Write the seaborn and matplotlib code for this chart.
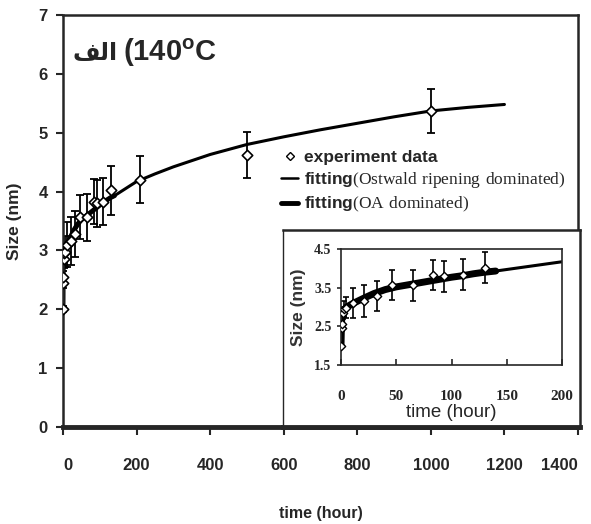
import matplotlib
matplotlib.use("Agg")
import matplotlib.pyplot as plt
from matplotlib.lines import Line2D
import pandas as pd
import seaborn as sns

tiempo = [0, 0.5, 1, 2, 3, 4.5, 10.6, 20.5, 32.6, 46, 65, 83, 93.5, 110, 130, 210, 500, 1000]
tamano = [2.0, 2.45, 2.55, 2.85, 2.95, 2.98, 3.1, 3.16, 3.28, 3.57, 3.56, 3.83, 3.80, 3.83, 4.02, 4.2, 4.62, 5.37]
error = [0.05, 0.08, 0.1, 0.15, 0.2, 0.27, 0.38, 0.41, 0.39, 0.38, 0.4, 0.38, 0.4, 0.4, 0.41, 0.4, 0.39, 0.38]

# ajuste (Ostwald ripening dominated)
t_ostwald = [0, 2, 5, 10, 20, 30, 50, 70, 90, 110, 140, 170, 200, 250, 300, 400, 500, 600, 700, 800, 900, 1000, 1100, 1200]
d_ostwald = [2.85, 2.92, 3.0, 3.07, 3.2, 3.32, 3.52, 3.63, 3.72, 3.82, 3.93, 4.05, 4.17, 4.3, 4.42, 4.63, 4.8, 4.93, 5.05, 5.16, 5.27, 5.37, 5.43, 5.48]

# ajuste (OA dominated)
t_oa = [0, 0.3, 0.6, 1, 2, 5, 10, 20, 30, 40, 50, 60, 70, 80, 90, 100, 110, 120, 130, 140]
d_oa = [2.0, 2.4, 2.65, 2.8, 2.9, 3.0, 3.08, 3.22, 3.35, 3.45, 3.52, 3.57, 3.62, 3.67, 3.72, 3.77, 3.81, 3.86, 3.9, 3.93]

xticks_main = [0, 200, 400, 600, 800, 1000, 1200, 1400]
yticks_main = [0, 1, 2, 3, 4, 5, 6, 7]
xticks_ins = [0, 50, 100, 150, 200]
yticks_ins = [1.5, 2.5, 3.5, 4.5]

df = pd.DataFrame({"time": tiempo, "size": tamano, "err": error})
df_os = pd.DataFrame({"time": t_ostwald, "size": d_ostwald})
df_oa = pd.DataFrame({"time": t_oa, "size": d_oa})

sns.set_style("ticks")
plt.rcParams["font.family"] = ["Liberation Sans", "DejaVu Sans"]
plt.rcParams["mathtext.fontset"] = "custom"
plt.rcParams["mathtext.rm"] = "Liberation Serif"
plt.rcParams["mathtext.bf"] = "Liberation Sans:bold"

W, H = 591, 524
fig = plt.figure(figsize=(W / 100, H / 100), dpi=100)
fig.patch.set_facecolor("white")

# grafico principal
ax = fig.add_axes([63 / W, (H - 427) / H, (578 - 63) / W, (427 - 15) / H])
sns.lineplot(data=df_os, x="time", y="size", ax=ax, color="black", lw=2.2, estimator=None, sort=False)
sns.lineplot(data=df_oa, x="time", y="size", ax=ax, color="black", lw=3.5, estimator=None, sort=False)
ax.errorbar(df["time"], df["size"], yerr=df["err"], fmt="none", ecolor="black", elinewidth=1.3, capsize=3, capthick=1.3)
sns.scatterplot(data=df, x="time", y="size", ax=ax, marker="D", s=28, facecolor="white", edgecolor="black", linewidth=1.2, zorder=5)

ax.set_xlim(0, 1400)
ax.set_ylim(0, 7)
ax.set_xticks(xticks_main)
ax.set_yticks(yticks_main)
ax.set_xticklabels([str(v) for v in xticks_main], fontsize=12, fontweight="bold")
ax.set_yticklabels([str(v) for v in yticks_main], fontsize=12, fontweight="bold")
ax.get_xticklabels()[-1].set_horizontalalignment("right")
ax.get_xticklabels()[0].set_horizontalalignment("left")
ax.tick_params(axis="x", direction="out", length=6, width=1.5, pad=16)
ax.tick_params(axis="y", direction="out", length=5, width=1.5, pad=6)
ax.set_xlabel("time (hour)", fontsize=11.5, fontweight="bold", labelpad=24)
ax.set_ylabel("Size (nm)", fontsize=12.5, fontweight="bold", labelpad=12)
for s in ["left", "top", "right"]:
    ax.spines[s].set_linewidth(1.8)
ax.spines["bottom"].set_linewidth(3.5)
ax.spines["top"].set_visible(True)
ax.spines["right"].set_visible(True)

# leyenda
handles = [
    Line2D([], [], marker="D", ls="none", markersize=4, markerfacecolor="white", markeredgecolor="black"),
    Line2D([], [], color="black", lw=1.8),
    Line2D([], [], color="black", lw=3.5),
]
labels = [
    "experiment data",
    r"fitting$\mathrm{(Ostwald\ ripening\ dominated)}$",
    r"fitting$\mathrm{(OA\ dominated)}$",
]
ax.legend(handles, labels, loc="upper left", bbox_to_anchor=(0.41, 0.69), frameon=False,
          prop={"family": "Liberation Sans", "weight": "bold", "size": 12.5},
          handlelength=1.0, handletextpad=0.3, labelspacing=0.3, borderaxespad=0)

# titulo: texto arabe en formas de presentacion (orden visual)
fig.text(118 / W, 1 - 53 / H, "\ufed2\ufedf\ufe8d", fontsize=17, fontweight="bold",
         family=["DejaVu Sans"], ha="right", va="center")
fig.text(123 / W, 1 - 53 / H, r"(140$^{\mathbf{o}}$C", fontsize=21, fontweight="bold",
         ha="left", va="center")

# marco del recuadro
frame = fig.add_axes([283 / W, (H - 427) / H, (580 - 283) / W, (427 - 230) / H])
frame.set_facecolor("white")
frame.set_xticks([])
frame.set_yticks([])
for s in ["left", "top", "right", "bottom"]:
    frame.spines[s].set_visible(True)
    frame.spines[s].set_linewidth(1.8)
frame.spines["left"].set_linewidth(1.0)
frame.spines["bottom"].set_linewidth(3.5)

# recuadro (inset)
ins = fig.add_axes([341 / W, (H - 365) / H, (562 - 341) / W, (365 - 249) / H])
ins.set_facecolor("none")
sns.lineplot(data=df_os, x="time", y="size", ax=ins, color="black", lw=2.2, estimator=None, sort=False)
sns.lineplot(data=df_oa, x="time", y="size", ax=ins, color="black", lw=5, estimator=None, sort=False)
ins.errorbar(df["time"], df["size"], yerr=df["err"], fmt="none", ecolor="black", elinewidth=1.2, capsize=2.5, capthick=1.2)
sns.scatterplot(data=df, x="time", y="size", ax=ins, marker="D", s=18, facecolor="white", edgecolor="black", linewidth=1.0, zorder=5)
ins.set_xlim(0, 200)
ins.set_ylim(1.5, 4.5)
ins.set_xticks(xticks_ins)
ins.set_yticks(yticks_ins)
ins.set_xticklabels([str(v) for v in xticks_ins], fontsize=11, fontweight="bold", family="Liberation Serif")
ins.set_yticklabels([str(v) for v in yticks_ins], fontsize=10, fontweight="bold", family="Liberation Serif")
ins.tick_params(axis="x", direction="in", length=4, width=1.2, pad=18)
ins.tick_params(axis="y", direction="out", length=3, width=1.2, pad=4)
ins.set_xlabel("time (hour)", fontsize=13.5, labelpad=1)
ins.set_ylabel("Size (nm)", fontsize=12.5, fontweight="bold", color="#333333", labelpad=6)
for s in ["left", "top", "right", "bottom"]:
    ins.spines[s].set_visible(True)
    ins.spines[s].set_linewidth(1.2)

fig.savefig("out.png", dpi=100)
